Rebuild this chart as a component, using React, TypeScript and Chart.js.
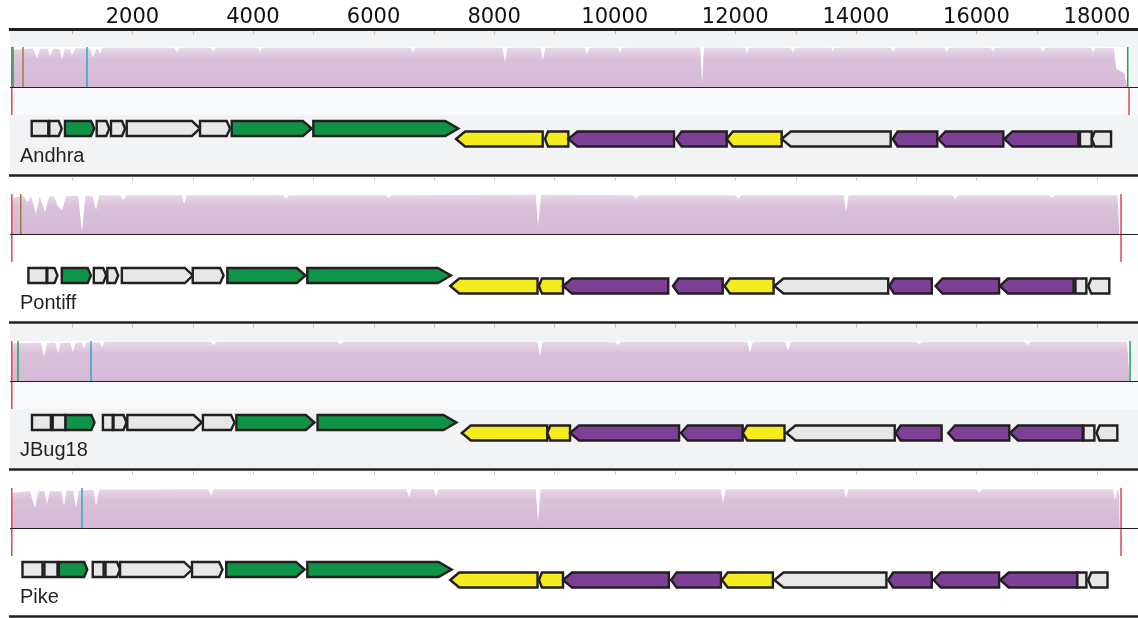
import React, { useEffect, useRef } from 'react';
import { Chart, registerables } from 'chart.js';

Chart.register(...registerables);

// ---------- data ----------
const genomeNames = ['Andhra', 'Pontiff', 'JBug18', 'Pike'];
const axisTicks = [2000, 4000, 6000, 8000, 10000, 12000, 14000, 16000, 18000];
const minorTicks = [1000, 2000, 3000, 4000, 5000, 6000, 7000, 8000, 9000, 10000, 11000, 12000, 13000, 14000, 15000, 16000, 17000, 18000];

// gene: [start bp, end bp, shape (f = forward arrow, r = reverse arrow, fb / rb = box on forward / reverse row), colour class]
type Gene = [number, number, string, string];

const andhraGenes: Gene[] = [
  [330, 605, 'fb', 'grey'], [622, 828, 'f', 'grey'], [882, 1368, 'f', 'green'], [1408, 1617, 'f', 'grey'],
  [1645, 1878, 'f', 'grey'], [1906, 3122, 'f', 'grey'], [3122, 3619, 'f', 'grey'], [3647, 4974, 'f', 'green'],
  [5001, 7406, 'f', 'green'], [7368, 8806, 'r', 'yellow'], [8844, 9231, 'r', 'yellow'], [9231, 10984, 'r', 'purple'],
  [11017, 11858, 'r', 'purple'], [11858, 12770, 'r', 'yellow'], [12770, 14578, 'r', 'grey'], [14611, 15351, 'r', 'purple'],
  [15368, 16446, 'r', 'purple'], [16463, 17690, 'r', 'purple'], [17718, 17912, 'rb', 'grey'], [17912, 18233, 'r', 'grey'],
];
const pontiffGenes: Gene[] = [
  [275, 576, 'fb', 'grey'], [589, 758, 'f', 'grey'], [829, 1312, 'f', 'green'], [1360, 1566, 'f', 'grey'],
  [1584, 1765, 'f', 'grey'], [1825, 3001, 'f', 'grey'], [3001, 3513, 'f', 'grey'], [3575, 4872, 'f', 'green'],
  [4901, 7284, 'f', 'green'], [7272, 8720, 'r', 'yellow'], [8743, 9143, 'r', 'yellow'], [9143, 10888, 'r', 'purple'],
  [10966, 11792, 'r', 'purple'], [11822, 12636, 'r', 'yellow'], [12649, 14537, 'r', 'grey'], [14555, 15260, 'r', 'purple'],
  [15321, 16376, 'r', 'purple'], [16388, 17612, 'r', 'purple'], [17643, 17824, 'rb', 'grey'], [17854, 18204, 'r', 'grey'],
];
const jbug18Genes: Gene[] = [
  [335, 649, 'fb', 'grey'], [678, 891, 'fb', 'grey'], [891, 1372, 'f', 'green'], [1511, 1674, 'fb', 'grey'],
  [1687, 1903, 'f', 'grey'], [1916, 3152, 'f', 'grey'], [3170, 3694, 'f', 'grey'], [3725, 5021, 'f', 'green'],
  [5071, 7375, 'f', 'green'], [7464, 8882, 'r', 'yellow'], [8882, 9259, 'r', 'yellow'], [9259, 11068, 'r', 'purple'],
  [11098, 12123, 'r', 'purple'], [12123, 12817, 'r', 'yellow'], [12848, 14645, 'r', 'grey'], [14658, 15423, 'r', 'purple'],
  [15532, 16545, 'r', 'purple'], [16557, 17763, 'r', 'purple'], [17776, 17957, 'rb', 'grey'], [17992, 18337, 'r', 'grey'],
];
const pikeGenes: Gene[] = [
  [177, 509, 'fb', 'grey'], [541, 758, 'fb', 'grey'], [781, 1252, 'f', 'green'], [1342, 1523, 'fb', 'grey'],
  [1554, 1795, 'f', 'grey'], [1795, 2989, 'f', 'grey'], [2989, 3495, 'f', 'grey'], [3556, 4858, 'f', 'green'],
  [4901, 7295, 'f', 'green'], [7272, 8720, 'r', 'yellow'], [8743, 9143, 'r', 'yellow'], [9143, 10899, 'r', 'purple'],
  [10936, 11762, 'r', 'purple'], [11780, 12624, 'r', 'yellow'], [12649, 14507, 'r', 'grey'], [14537, 15260, 'r', 'purple'],
  [15290, 16376, 'r', 'purple'], [16395, 17674, 'r', 'purple'], [17674, 17824, 'rb', 'grey'], [17854, 18174, 'r', 'grey'],
];

// similarity profile: [bp, % identity]
const andhraCoverage: [number, number][] = [
  [0, 0], [10, 93], [350, 96], [418, 72], [470, 95], [590, 96], [634, 78], [690, 96], [790, 95], [833, 70], [880, 94],
  [960, 95], [999, 80], [1060, 97], [1300, 96], [1347, 74], [1400, 95], [1440, 94], [1463, 82], [1500, 98],
  [2700, 98], [2740, 86], [2780, 98], [3300, 98], [3340, 88], [3380, 98], [4080, 98], [4117, 88], [4160, 98],
  [6620, 98], [6655, 85], [6690, 98], [8140, 98], [8180, 62], [8220, 98], [8770, 98], [8810, 68], [8850, 98],
  [9500, 98], [9540, 82], [9580, 98], [10050, 98], [10088, 86], [10120, 98], [11420, 99], [11450, 10], [11480, 99],
  [12160, 98], [12196, 84], [12230, 98], [12920, 98], [12958, 86], [12990, 98], [13590, 98], [13620, 88], [13650, 98],
  [14580, 98], [14615, 87], [14650, 98], [15480, 98], [15512, 86], [15545, 98], [16240, 98], [16275, 88], [16310, 98],
  [17070, 98], [17105, 87], [17140, 98], [17900, 98], [17935, 86], [17970, 98], [18280, 97], [18320, 45], [18450, 35],
  [18500, 0],
];
const pontiffCoverage: [number, number][] = [
  [0, 0], [10, 90], [200, 95], [260, 80], [320, 95], [401, 50], [460, 94], [551, 55], [620, 93], [700, 95], [760, 70],
  [833, 60], [900, 94], [1000, 96], [1100, 95], [1164, 5], [1220, 96], [1340, 94], [1397, 60], [1450, 97],
  [1800, 96], [1850, 85], [1900, 97], [2820, 97], [2856, 75], [2900, 97], [4500, 97], [4550, 88], [4600, 97],
  [6200, 97], [6250, 90], [6300, 97], [8690, 98], [8728, 18], [8780, 98], [10300, 97], [10350, 88], [10400, 97],
  [12000, 97], [12050, 88], [12100, 97], [13800, 97], [13837, 55], [13880, 97], [15600, 97], [15650, 88], [15700, 97],
  [17200, 97], [17250, 90], [17300, 97], [18340, 97], [18370, 0],
];
const jbug18Coverage: [number, number][] = [
  [0, 0], [10, 94], [480, 96], [534, 62], [590, 95], [720, 96], [766, 70], [810, 95], [970, 96], [1015, 72],
  [1060, 96], [1160, 96], [1198, 80], [1240, 97], [1460, 97], [1496, 84], [1540, 98], [3300, 98], [3350, 90],
  [3400, 98], [5400, 98], [5450, 92], [5500, 98], [8720, 98], [8761, 62], [8800, 98], [10000, 98], [10050, 90],
  [10100, 98], [12200, 98], [12245, 70], [12290, 98], [12830, 98], [12875, 75], [12920, 98], [15000, 98],
  [15050, 92], [15100, 98], [16800, 98], [16850, 90], [16900, 98], [18500, 98], [18540, 0],
];
const pikeCoverage: [number, number][] = [
  [0, 0], [10, 88], [300, 92], [385, 50], [440, 92], [540, 93], [584, 60], [630, 92], [820, 92], [866, 55], [910, 93],
  [1020, 93], [1065, 50], [1110, 94], [1350, 95], [1397, 55], [1450, 96], [3260, 97], [3304, 80], [3350, 97],
  [6550, 97], [6588, 76], [6630, 97], [7000, 97], [7036, 80], [7080, 97], [8690, 97], [8728, 15], [8770, 97],
  [11760, 97], [11797, 62], [11840, 97], [13800, 97], [13837, 75], [13880, 97], [16000, 97], [16050, 88],
  [16100, 97], [18260, 97], [18300, 70], [18340, 96], [18360, 96], [18380, 0],
];

// block boundaries: [bp, colour class, extent]
const andhraBounds: [number, string, string][] = [
  [0, 'red', 'full'], [20, 'green', 'upper'], [186, 'brown', 'upper'], [1247, 'cyan', 'upper'],
  [18510, 'green', 'upper'], [18531, 'red', 'lower'],
];
const pontiffBounds: [number, string, string][] = [[0, 'red', 'full'], [148, 'brown', 'upper'], [18398, 'red', 'full']];
const jbug18Bounds: [number, string, string][] = [
  [0, 'red', 'full'], [103, 'green', 'upper'], [1314, 'cyan', 'upper'], [18548, 'green', 'upper'],
];
const pikeBounds: [number, string, string][] = [[0, 'red', 'full'], [1164, 'cyan', 'upper'], [18398, 'red', 'full']];

const genomeGenes = [andhraGenes, pontiffGenes, jbug18Genes, pikeGenes];
const genomeCoverage = [andhraCoverage, pontiffCoverage, jbug18Coverage, pikeCoverage];
const genomeBounds = [andhraBounds, pontiffBounds, jbug18Bounds, pikeBounds];

// ---------- styles ----------
const geneColors: Record<string, string> = { grey: '#e6e7e8', green: '#0f9447', yellow: '#f4ec1c', purple: '#7e3f97' };
const boundColors: Record<string, string> = { red: '#e0474f', green: '#22a455', brown: '#a67c3d', cyan: '#29aac2' };
const panelFills = ['#f2f3f5', '#ffffff', '#f2f3f5', '#ffffff'];
const ink = '#231f20';
// gene-axis layout (units of the gene axis)
const FWD_TOP = 34, REV_TOP = 44.5, ROW_H = 15, LOWER_BAND = 28, LABEL_Y = 69;

const pinkFill = (i: number) => (c: any) => {
  const chart = c.chart;
  const s = chart.scales['cov' + i];
  if (!s || s.bottom == null || !isFinite(s.bottom)) return '#d8bcd9';
  const g = chart.ctx.createLinearGradient(0, s.getPixelForValue(100), 0, s.bottom);
  g.addColorStop(0, '#e8d8e9');
  g.addColorStop(0.3, '#dac1db');
  g.addColorStop(1, '#d5b8d7');
  return g;
};

const tracksPlugin = {
  id: 'tracks',
  beforeDraw(chart: any) {
    const ctx = chart.ctx;
    const { left, right } = chart.chartArea;
    const xs = chart.scales.x;
    ctx.save();
    genomeNames.forEach((_, i) => {
      const cov = chart.scales['cov' + i];
      const gene = chart.scales['gene' + i];
      ctx.fillStyle = panelFills[i];
      ctx.fillRect(left, cov.top, right - left, gene.bottom - cov.top);
      ctx.fillStyle = 'rgba(255,255,255,0.55)';
      ctx.fillRect(left, gene.top, right - left, gene.getPixelForValue(LOWER_BAND) - gene.top);
      const data = genomeCoverage[i];
      const xEnd = xs.getPixelForValue(data[data.length - 1][0]);
      const yTop = cov.getPixelForValue(100);
      ctx.fillStyle = '#ffffff';
      ctx.fillRect(left, yTop, xEnd - left, cov.bottom - yTop);
    });
    ctx.restore();
  },
  afterDatasetsDraw(chart: any) {
    const ctx = chart.ctx;
    const { left, right } = chart.chartArea;
    const xs = chart.scales.x;
    ctx.save();
    const drawMinor = (y: number) => {
      ctx.strokeStyle = 'rgba(120,120,120,0.45)';
      ctx.lineWidth = 1;
      minorTicks.forEach((v) => {
        const x = Math.round(xs.getPixelForValue(v)) + 0.5;
        ctx.beginPath();
        ctx.moveTo(x, y + 2);
        ctx.lineTo(x, y + 5);
        ctx.stroke();
      });
    };
    drawMinor(chart.chartArea.top);
    genomeNames.forEach((name, i) => {
      const cov = chart.scales['cov' + i];
      const gene = chart.scales['gene' + i];
      const base = cov.bottom;
      // boundary lines
      genomeBounds[i].forEach(([bp, col, ext]) => {
        const x = xs.getPixelForValue(bp);
        const y0 = ext === 'lower' ? base : cov.getPixelForValue(100);
        const y1 = ext === 'upper' ? base : gene.getPixelForValue(LOWER_BAND);
        ctx.strokeStyle = boundColors[col];
        ctx.lineWidth = 1.5;
        ctx.beginPath();
        ctx.moveTo(x, y0);
        ctx.lineTo(x, y1);
        ctx.stroke();
      });
      // baseline
      ctx.strokeStyle = ink;
      ctx.lineWidth = 1;
      ctx.beginPath();
      ctx.moveTo(left, Math.round(base) + 0.5);
      ctx.lineTo(right, Math.round(base) + 0.5);
      ctx.stroke();
      // genes
      ctx.lineWidth = 2.4;
      ctx.lineJoin = 'miter';
      ctx.strokeStyle = ink;
      genomeGenes[i].forEach(([s, e, shape, col]) => {
        const x1 = xs.getPixelForValue(s);
        const x2 = xs.getPixelForValue(e);
        const fwdRow = shape === 'f' || shape === 'fb';
        const top = gene.getPixelForValue(fwdRow ? FWD_TOP : REV_TOP);
        const bot = gene.getPixelForValue((fwdRow ? FWD_TOP : REV_TOP) + ROW_H);
        const mid = (top + bot) / 2;
        const w = x2 - x1;
        ctx.beginPath();
        if (shape === 'f') {
          const tip = Math.max(3, Math.min(13, w * 0.11));
          ctx.moveTo(x1, top);
          ctx.lineTo(x2 - tip, top);
          ctx.lineTo(x2, mid);
          ctx.lineTo(x2 - tip, bot);
          ctx.lineTo(x1, bot);
        } else if (shape === 'r') {
          const tip = Math.max(3, Math.min(9, w * 0.11));
          ctx.moveTo(x1, mid);
          ctx.lineTo(x1 + tip, top);
          ctx.lineTo(x2, top);
          ctx.lineTo(x2, bot);
          ctx.lineTo(x1 + tip, bot);
        } else {
          ctx.rect(x1, top, w, bot - top);
        }
        ctx.closePath();
        ctx.fillStyle = geneColors[col];
        ctx.fill();
        ctx.stroke();
      });
      // name
      ctx.fillStyle = ink;
      ctx.font = '20px "Liberation Sans", Arial, sans-serif';
      ctx.textBaseline = 'middle';
      ctx.textAlign = 'left';
      ctx.fillText(name, left + 10, gene.getPixelForValue(LABEL_Y));
      // separator
      const yb = gene.bottom - 0.5;
      ctx.strokeStyle = ink;
      ctx.lineWidth = 2.6;
      ctx.beginPath();
      ctx.moveTo(left - 1, yb);
      ctx.lineTo(right, yb);
      ctx.stroke();
      if (i < genomeNames.length - 1) drawMinor(yb);
    });
    ctx.restore();
  },
};

export default function App() {
  const ref = useRef<HTMLCanvasElement | null>(null);
  useEffect(() => {
    document.body.style.margin = '0';
    const hidden = {
      type: 'linear',
      position: 'left',
      stack: 'tracks',
      display: true,
      ticks: { display: false },
      grid: { display: false, drawTicks: false },
      border: { display: false },
    };
    const scales: any = {
      x: {
        type: 'linear',
        position: 'top',
        min: -30,
        max: 18680,
        afterBuildTicks: (s: any) => {
          s.ticks = axisTicks.map((v) => ({ value: v }));
        },
        afterFit: (s: any) => {
          s.height = 29;
        },
        ticks: {
          autoSkip: false,
          maxRotation: 0,
          padding: 1,
          color: '#111111',
          font: { family: '"DejaVu Sans", sans-serif', size: 21, lineHeight: 1 },
          callback: (v: any) => String(v),
        },
        grid: { display: false, drawTicks: false },
        border: { display: true, color: ink, width: 3 },
      },
    };
    genomeNames.forEach((_, i) => {
      scales['cov' + i] = { ...hidden, stackWeight: 58, weight: 8 - 2 * i, min: 0, max: 145 };
      scales['gene' + i] = { ...hidden, stackWeight: 89, weight: 7 - 2 * i, min: 0, max: 89, reverse: true };
    });
    const datasets = genomeCoverage.map((cov, i) => ({
      type: 'line' as const,
      label: genomeNames[i],
      data: cov.map(([x, y]) => ({ x, y })),
      xAxisID: 'x',
      yAxisID: 'cov' + i,
      fill: 'origin',
      backgroundColor: pinkFill(i),
      borderColor: 'rgba(0,0,0,0)',
      borderWidth: 0,
      pointRadius: 0,
      tension: 0,
    }));
    const chart = new Chart(ref.current as HTMLCanvasElement, {
      type: 'line',
      data: { datasets },
      options: {
        animation: false,
        responsive: false,
        devicePixelRatio: 1,
        events: [],
        layout: { padding: { left: 10, right: 0, top: 0, bottom: 1 } },
        plugins: { legend: { display: false }, tooltip: { enabled: false }, title: { display: false } },
        scales,
      },
      plugins: [tracksPlugin],
    } as any);
    return () => chart.destroy();
  }, []);
  return (
    <div style={{ position: 'absolute', left: 0, top: 0, width: 1138, height: 618, background: '#ffffff' }}>
      <canvas ref={ref} width={1138} height={618} style={{ display: 'block', width: 1138, height: 618 }} />
    </div>
  );
}
